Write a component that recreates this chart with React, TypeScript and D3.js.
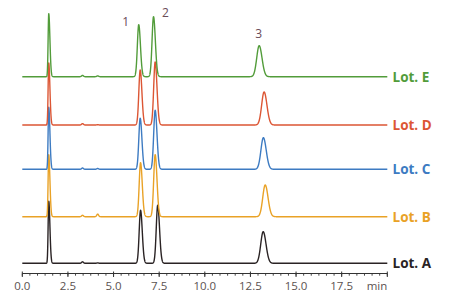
import React from "react";
import * as d3 from "d3";

// Lots, bottom to top
const lots = ["Lot. A", "Lot. B", "Lot. C", "Lot. D", "Lot. E"];
const lotColors = ["#2a2324", "#e9a226", "#3d7bc2", "#dc5634", "#529c3a"];
// vertical stacking offset of each trace (signal units)
const lotOffsets = [0, 46.6, 94, 138.3, 186.6];

// peak tables per lot: retention time (min), height (signal units), sigma (min)
const solventTimes = [1.45, 1.45, 1.45, 1.45, 1.45];
const solventHeights = [62, 62, 62, 62, 63];
const peak1Times = [6.48, 6.48, 6.46, 6.46, 6.38];
const peak1Heights = [53, 54, 51, 55, 52];
const peak2Times = [7.42, 7.28, 7.28, 7.28, 7.19];
const peak2Heights = [58, 62, 59, 63, 60];
const peak3Times = [13.2, 13.31, 13.21, 13.25, 12.98];
const peak3Heights = [31.6, 31.7, 31.6, 33, 31];
const impurity1Times = [3.3, 3.3, 3.3, 3.3, 3.3];
const impurity1Heights = [1.5, 1.4, 1.3, 1.4, 1.3];
const impurity2Times = [4.13, 4.13, 4.13, 4.13, 4.13];
const impurity2Heights = [0.4, 2.6, 0.8, 0.3, 0.8];
const peakSigmas = [0.035, 0.075, 0.08, 0.135];
const impuritySigma = 0.05;

const peakLabels = ["1", "2", "3"];
const majorTicks = [0, 2.5, 5, 7.5, 10, 12.5, 15, 17.5];
const timeDomain = [0, 20];
const axisUnit = "min";

function signal(t: number, i: number): number {
  const g = (t0: number, h: number, s: number, tail = 1) => {
    const sd = t > t0 ? s * tail : s;
    return h * Math.exp(-((t - t0) ** 2) / (2 * sd * sd));
  };
  return (
    g(solventTimes[i], solventHeights[i], peakSigmas[0], 1.8) +
    g(peak1Times[i], peak1Heights[i], peakSigmas[1], 1.25) +
    g(peak2Times[i], peak2Heights[i], peakSigmas[2], 1.25) +
    g(peak3Times[i], peak3Heights[i], peakSigmas[3], 1.15) +
    g(impurity1Times[i], impurity1Heights[i], impuritySigma) +
    g(impurity2Times[i], impurity2Heights[i], impuritySigma)
  );
}

export default function App() {
  const x = d3.scaleLinear().domain(timeDomain).range([22.3, 387.3]);
  const y = d3.scaleLinear().domain([0, 250]).range([263.3, 13.3]);
  const times = d3.range(timeDomain[0], timeDomain[1] + 1e-9, 0.004);
  const line = d3
    .line<[number, number]>()
    .x((d) => x(d[0]))
    .y((d) => y(d[1]));
  const axisY = 273.5;
  const minorTicks = d3.range(0, 20 + 1e-9, 2.5 / 6);
  const font = "'Open Sans', 'Noto Sans', sans-serif";
  const top = lots.length - 1;
  const labelPeaks = [
    { t: peak1Times[top], h: peak1Heights[top], dx: -13, dy: -3 },
    { t: peak2Times[top], h: peak2Heights[top], dx: 12, dy: -4 },
    { t: peak3Times[top], h: peak3Heights[top], dx: -0.5, dy: -12 },
  ];
  return (
    <svg
      width={450}
      height={300}
      style={{ position: "absolute", left: 0, top: 0, background: "#fff" }}
    >
      {lots.map((lot, i) => {
        const pts = times.map((t) => [t, lotOffsets[i] + signal(t, i)] as [number, number]);
        return (
          <g key={lot}>
            <path
              d={line(pts) || ""}
              fill="none"
              stroke={lotColors[i]}
              strokeWidth={1.4}
              strokeLinejoin="round"
            />
            <text
              x={392.5}
              y={y(lotOffsets[i])}
              dominantBaseline="central"
              fill={lotColors[i]}
              fontFamily={font}
              fontWeight="bold"
              fontSize={13.5}
            >
              {lot}
            </text>
          </g>
        );
      })}
      {labelPeaks.map((p, k) => (
        <text
          key={k}
          x={x(p.t) + p.dx}
          y={y(lotOffsets[top] + p.h) + p.dy}
          textAnchor="middle"
          dominantBaseline="central"
          fill="#6a4c58"
          fontFamily={font}
          fontSize={12}
        >
          {peakLabels[k]}
        </text>
      ))}
      <g>
        <line x1={x(0)} x2={x(20)} y1={axisY} y2={axisY} stroke="#333" strokeWidth={1} />
        {minorTicks.map((t, k) => (
          <line key={k} x1={x(t)} x2={x(t)} y1={axisY} y2={axisY + 2.2} stroke="#333" strokeWidth={0.9} />
        ))}
        {[...majorTicks, 20].map((t) => (
          <line key={"M" + t} x1={x(t)} x2={x(t)} y1={axisY - 2} y2={axisY + 3.5} stroke="#333" strokeWidth={1} />
        ))}
        {majorTicks.map((t) => (
          <text
            key={"L" + t}
            x={x(t)}
            y={285}
            textAnchor="middle"
            dominantBaseline="central"
            fill="#5b5250"
            fontFamily={font}
            fontSize={11.5}
          >
            {t.toFixed(1)}
          </text>
        ))}
        <text
          x={x(20)}
          y={285}
          textAnchor="end"
          dominantBaseline="central"
          fill="#5b5250"
          fontFamily={font}
          fontSize={11.5}
        >
          {axisUnit}
        </text>
      </g>
    </svg>
  );
}
